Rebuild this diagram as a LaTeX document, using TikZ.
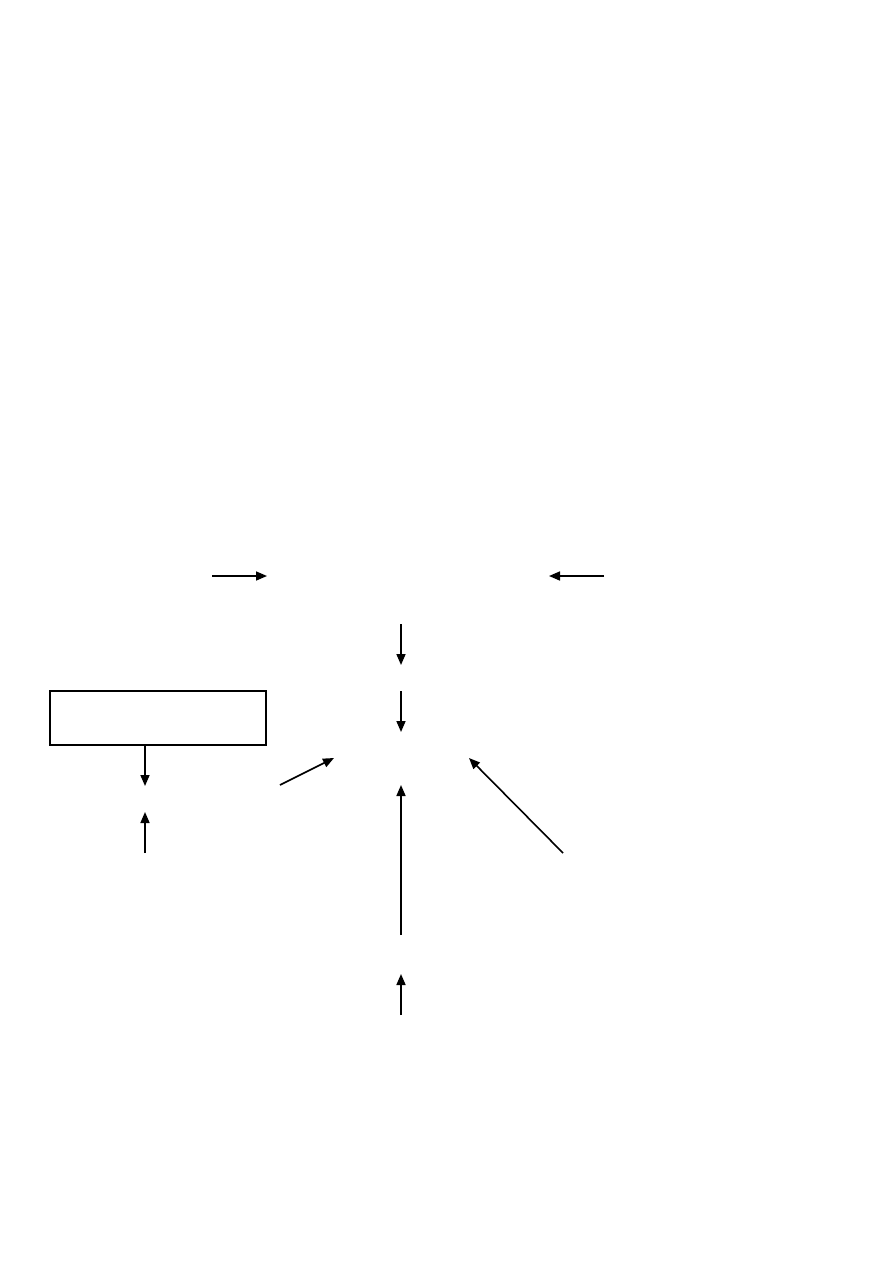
\documentclass[tikz,border=0pt]{standalone}
\usetikzlibrary{arrows.meta}
\begin{document}
\begin{tikzpicture}[x=1pt,y=-1pt,
  conn/.style={line width=1.6pt,-{Triangle[length=11pt,width=9pt]}},
  plainbox/.style={draw,line width=1.4pt,minimum width=216pt,minimum height=54pt,inner sep=0pt}]
\useasboundingbox[fill=white] (0,0) rectangle (893,1263);
\node[plainbox] (box) at (158,718) {};
\coordinate (a1s) at (212,576); \coordinate (a1e) at (267,576);
\coordinate (a2s) at (604,576); \coordinate (a2e) at (549,576);
\coordinate (a3s) at (401,624); \coordinate (a3e) at (401,665);
\coordinate (a4s) at (401,691); \coordinate (a4e) at (401,732);
\coordinate (a5e) at (145,786);
\coordinate (a6s) at (145,853); \coordinate (a6e) at (145,812);
\coordinate (a7s) at (280,785); \coordinate (a7e) at (334,758);
\coordinate (a8s) at (401,935); \coordinate (a8e) at (401,785);
\coordinate (a9s) at (563,853); \coordinate (a9e) at (469,758);
\coordinate (a10s) at (401,1015); \coordinate (a10e) at (401,974);
\draw[conn] (a1s) -- (a1e);
\draw[conn] (a2s) -- (a2e);
\draw[conn] (a3s) -- (a3e);
\draw[conn] (a4s) -- (a4e);
\draw[conn] (box.south -| a5e) -- (a5e);
\draw[conn] (a6s) -- (a6e);
\draw[conn] (a7s) -- (a7e);
\draw[conn] (a8s) -- (a8e);
\draw[conn] (a9s) -- (a9e);
\draw[conn] (a10s) -- (a10e);
\end{tikzpicture}
\end{document}
